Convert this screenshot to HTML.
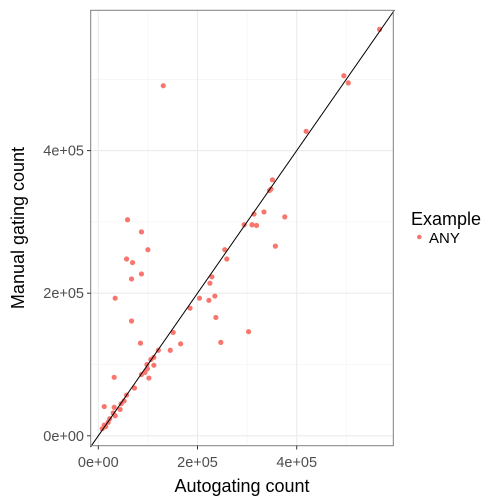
<!DOCTYPE html>
<html><head><meta charset="utf-8"><style>
body{margin:0;background:#fff}
svg{display:block;font-family:"Liberation Sans",Arial,sans-serif}
</style></head><body>
<svg id="chart" width="504" height="504">
<g id="grid"></g>
<g id="pts"></g>
<line id="diag" stroke="#000" stroke-width="1"/>
<rect x="90.7" y="10.3" width="302.6" height="435.4" fill="none" stroke="#7f7f7f" stroke-width="1"/>
<g id="axes"></g>
<text x="242" y="492" font-size="18" text-anchor="middle" fill="#000">Autogating count</text>
<text transform="translate(24,228) rotate(-90)" font-size="18" text-anchor="middle" fill="#000">Manual gating count</text>
<g>
<text x="411" y="225" font-size="18" fill="#000">Example</text>
<circle cx="419.3" cy="237" r="2.3" fill="#F8766D"/>
<text x="429" y="243" font-size="15" fill="#000">ANY</text>
</g>
</svg>
<script>
// values in units of 1e5
const xVals=[0.59,0.87,1.00,0.57,0.69,0.87,0.67,0.34,0.67,0.85,0.32,0.12,1.51,1.66,1.45,1.21,1.12,1.06,0.98,1.12,0.99,0.94,0.87,1.02,0.73,0.57,0.52,0.46,0.44,0.32,0.30,0.34,0.23,0.20,0.15,0.08,0.12,1.85,2.04,2.23,2.35,2.25,2.29,2.37,2.47,2.55,2.59,3.03,2.94,3.10,3.19,3.14,3.34,3.57,3.76,5.67,4.95,5.04,4.19,3.51,3.48,3.45,1.31];
const yVals=[3.03,2.86,2.61,2.48,2.43,2.27,2.20,1.93,1.61,1.30,0.82,0.41,1.45,1.29,1.20,1.20,1.10,1.07,1.00,0.99,0.94,0.89,0.86,0.81,0.67,0.57,0.49,0.45,0.37,0.40,0.32,0.28,0.24,0.19,0.13,0.10,0.15,1.79,1.93,1.90,1.96,2.14,2.23,1.66,1.31,2.61,2.48,1.46,2.96,2.96,2.95,3.11,3.14,2.66,3.07,5.70,5.05,4.95,4.27,3.59,3.46,3.44,4.91];
const xTicks=[0,2,4], yTicks=[0,2,4];
const tickLabels=["0e+00","2e+05","4e+05"];
const xMinor=[1,3,5], yMinor=[1,3,5];
const X=v=>98.3+v*49.6, Y=v=>435.8-v*71.3;
const NS="http://www.w3.org/2000/svg";
const grid=document.getElementById('grid'), pts=document.getElementById('pts'), axes=document.getElementById('axes');
function mk(tag,attrs,parent){const e=document.createElementNS(NS,tag);for(const k in attrs)e.setAttribute(k,attrs[k]);parent.appendChild(e);return e;}
xMinor.forEach(v=>{const l=mk('line',{x1:X(v),x2:X(v),y1:10.3,y2:445.7,stroke:'#f2f2f2','stroke-width':0.6},grid);

});
yMinor.forEach(v=>{const l=mk('line',{x1:90.7,x2:393.3,y1:Y(v),y2:Y(v),stroke:'#f2f2f2','stroke-width':0.6},grid);

});
xTicks.forEach((v,i)=>{const l=mk('line',{x1:X(v),x2:X(v),y1:10.3,y2:445.7,stroke:'#ebebeb','stroke-width':1.1},grid);


const t=mk('line',{x1:X(v),x2:X(v),y1:445.7,y2:449.5,stroke:'#333','stroke-width':1},axes);


const tx=mk('text',{x:X(v),y:467,'font-size':14.5,'text-anchor':'middle',fill:'#4d4d4d'},axes);tx.textContent=tickLabels[i];

});
yTicks.forEach((v,i)=>{const l=mk('line',{x1:90.7,x2:393.3,y1:Y(v),y2:Y(v),stroke:'#ebebeb','stroke-width':1.1},grid);


const t=mk('line',{x1:87,x2:90.7,y1:Y(v),y2:Y(v),stroke:'#333','stroke-width':1},axes);


const tx=mk('text',{x:84,y:Y(v)+5,'font-size':14.5,'text-anchor':'end',fill:'#4d4d4d'},axes);tx.textContent=tickLabels[i];

});
xVals.forEach((v,i)=>{const c=mk('circle',{cx:X(v),cy:Y(yVals[i]),r:2.6,fill:'#F8766D'},pts);

});
const d=document.getElementById('diag');
const lo=-0.158,hi=5.97;
d.setAttribute('x1',X(lo));d.setAttribute('y1',Y(lo));d.setAttribute('x2',X(hi));d.setAttribute('y2',Y(hi));
</script>
</body></html>
